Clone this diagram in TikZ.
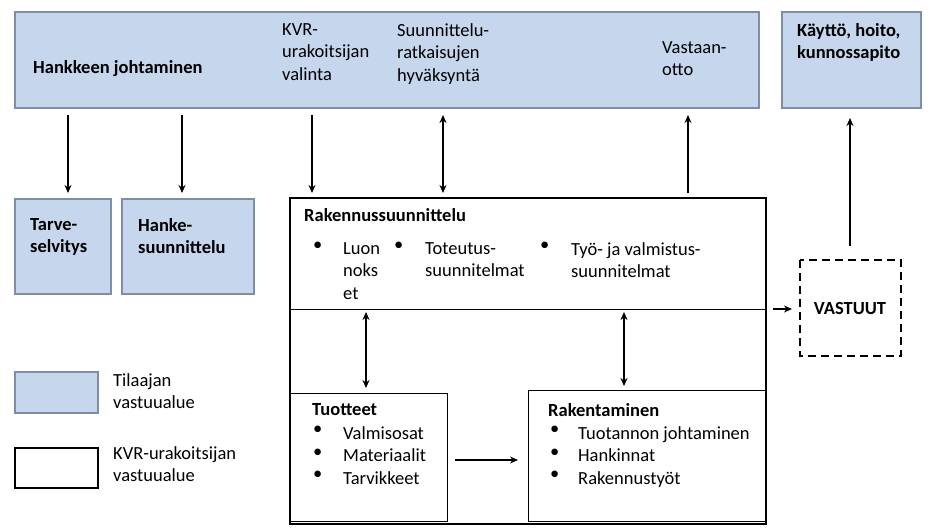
\documentclass[tikz,border=0pt]{standalone}
\usepackage{fontspec}
\setmainfont{Carlito}
\usetikzlibrary{arrows.meta}
\definecolor{fillb}{HTML}{C6D6EC}
\definecolor{edgeb}{HTML}{7E8EA6}
\begin{document}
\begin{tikzpicture}[x=1pt,y=-1pt,
  every node/.style={font=\fontsize{18.5}{22.5}\selectfont,inner sep=0pt,anchor=north west,align=left},
  bf/.style={font=\fontsize{18.5}{22.5}\selectfont\bfseries},
  blue/.style={draw=edgeb,fill=fillb,line width=2.2pt},
  thick box/.style={draw=black,line width=2.8pt},
  thin box/.style={draw=black,line width=1pt},
  arr/.style={-{Stealth[length=8pt,width=7pt]},line width=1.3pt},
  darr/.style={{Stealth[length=8pt,width=7pt]}-{Stealth[length=8pt,width=7pt]},line width=1.3pt}]
\useasboundingbox (0,0) rectangle (929,532);
% boxes
\draw[blue] (15,12) rectangle (759,108);
\draw[blue] (782,12) rectangle (921,108);
\draw[blue] (15,199) rectangle (111,294);
\draw[blue] (122,199) rectangle (254,294);
\draw[blue] (15,372) rectangle (98,413);
\draw[thick box] (15,448) rectangle (98,488);
\draw[thick box] (290,198) rectangle (766,524);
\draw[thin box] (290,309) -- (766,309);
\draw[thin box] (290,393) rectangle (447,521);
\draw[thin box] (528,390) rectangle (766,521);
\draw[thick box,dash pattern=on 8pt off 5pt] (800,260) rectangle (901,356);
% texts
\node[bf] (hj) at (33,60) {Hankkeen johtaminen};
\node (kvr) at (282,23) {KVR-\\urakoitsijan\\valinta};
\node (sr) at (397,23) {Suunnittelu-\\ratkaisujen\\hyväksyntä};
\node (va) at (662,41) {Vastaan-\\otto};
\node[bf] (kh) at (797,23) {Käyttö, hoito,\\kunnossapito};
\node[bf] (ts) at (30,218) {Tarve-\\selvitys};
\node[bf] (hs) at (138,218) {Hanke-\\suunnittelu};
\node[bf] (rs) at (304,208) {Rakennussuunnittelu};
\node (b1) at (313,242) {•}; \node (t1) at (343,242) {Luon\\noks\\et};
\node (b2) at (394,242) {•}; \node (t2) at (425,242) {Toteutus-\\suunnitelmat};
\node (b3) at (540,242) {•}; \node (t3) at (571,242) {Työ- ja valmistus-\\suunnitelmat};
\node[bf,anchor=center] (vs) at (850,309) {VASTUUT};
\node (l1) at (113,373) {Tilaajan\\vastuualue};
\node (l2) at (113,446) {KVR-urakoitsijan\\vastuualue};
\node[bf] (tu) at (312,403) {Tuotteet};
\node (tb) at (313,426) {•\\•\\•}; \node (tt) at (343,426) {Valmisosat\\Materiaalit\\Tarvikkeet};
\node[bf] (ra) at (548,403) {Rakentaminen};
\node (rb) at (550,426) {•\\•\\•}; \node (rt) at (578,426) {Tuotannon johtaminen\\Hankinnat\\Rakennustyöt};
% connector endpoints
\coordinate (a1) at (68,115); \coordinate (a2) at (68,193);
\coordinate (c1) at (182,115); \coordinate (c2) at (182,193);
\coordinate (d1) at (312,115); \coordinate (d2) at (312,193);
\coordinate (e1) at (443,115); \coordinate (e2) at (443,193);
\coordinate (f1) at (688,193); \coordinate (f2) at (688,115);
\coordinate (g1) at (850,246); \coordinate (g2) at (850,118);
\coordinate (h1) at (773,309); \coordinate (h2) at (792,309);
\coordinate (i1) at (366,312); \coordinate (i2) at (366,388);
\coordinate (j1) at (624,312); \coordinate (j2) at (624,386);
\coordinate (k1) at (455,460); \coordinate (k2) at (518,460);
\draw[arr] (a1) -- (a2);
\draw[arr] (c1) -- (c2);
\draw[arr] (d1) -- (d2);
\draw[darr] (e1) -- (e2);
\draw[arr] (f1) -- (f2);
\draw[arr] (g1) -- (g2);
\draw[arr] (h1) -- (h2);
\draw[darr] (i1) -- (i2);
\draw[darr] (j1) -- (j2);
\draw[arr] (k1) -- (k2);
\end{tikzpicture}
\end{document}
